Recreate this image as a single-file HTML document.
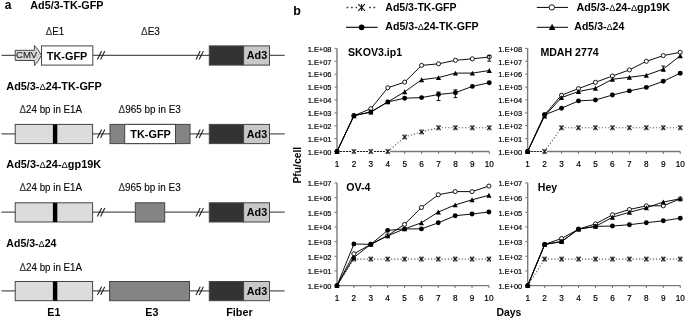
<!DOCTYPE html>
<html><head><meta charset="utf-8"><title>Figure</title>
<style>html,body{margin:0;padding:0;background:#fff;width:685px;height:319px;overflow:hidden;font-family:"Liberation Sans", sans-serif;} svg{display:block;will-change:transform;filter:blur(0.4px);}</style>
</head><body>
<svg width="685" height="319" viewBox="0 0 685 319" font-family='"Liberation Sans", sans-serif'><line x1="1.50" y1="55.30" x2="284.70" y2="55.30" stroke="#555" stroke-width="1.2"/>
<line x1="97.40" y1="59.50" x2="101.60" y2="51.10" stroke="#222" stroke-width="1.1"/>
<line x1="100.60" y1="59.50" x2="104.80" y2="51.10" stroke="#222" stroke-width="1.1"/>
<line x1="196.00" y1="59.50" x2="200.20" y2="51.10" stroke="#222" stroke-width="1.1"/>
<line x1="199.20" y1="59.50" x2="203.40" y2="51.10" stroke="#222" stroke-width="1.1"/>
<rect x="209.3" y="45.9" width="34.3" height="19.2" fill="#333333" stroke="#454545" stroke-width="1"/>
<rect x="243.6" y="45.9" width="25.9" height="19.2" fill="#c8c8c8" stroke="#454545" stroke-width="1"/>
<text x="257.00" y="59.30" font-size="10.8" font-weight="bold" text-anchor="middle" fill="#000">Ad3</text>
<path d="M15.2 50.3 H34.4 V45.5 Q38.7 49.6 41.4 55.4 Q38.7 61.2 34.4 65.6 V60.5 H15.2 Z" fill="#d6d6d6" stroke="#4a4a4a" stroke-width="1"/>
<text x="26.60" y="58.40" font-size="9.7" text-anchor="middle" fill="#1a1a1a" textLength="21.2" lengthAdjust="spacingAndGlyphs" stroke="#1a1a1a" stroke-width="0.1">CMV</text>
<rect x="41.5" y="45.9" width="51.3" height="19.2" fill="#fff" stroke="#454545" stroke-width="1"/>
<text x="67.10" y="59.50" font-size="10.9" font-weight="bold" text-anchor="middle" fill="#000">TK-GFP</text>
<line x1="1.50" y1="133.80" x2="284.70" y2="133.80" stroke="#555" stroke-width="1.2"/>
<line x1="97.40" y1="138.00" x2="101.60" y2="129.60" stroke="#222" stroke-width="1.1"/>
<line x1="100.60" y1="138.00" x2="104.80" y2="129.60" stroke="#222" stroke-width="1.1"/>
<line x1="196.00" y1="138.00" x2="200.20" y2="129.60" stroke="#222" stroke-width="1.1"/>
<line x1="199.20" y1="138.00" x2="203.40" y2="129.60" stroke="#222" stroke-width="1.1"/>
<rect x="209.3" y="124.4" width="34.3" height="19.2" fill="#333333" stroke="#454545" stroke-width="1"/>
<rect x="243.6" y="124.4" width="25.9" height="19.2" fill="#c8c8c8" stroke="#454545" stroke-width="1"/>
<text x="257.00" y="137.80" font-size="10.8" font-weight="bold" text-anchor="middle" fill="#000">Ad3</text>
<rect x="15.2" y="124.4" width="77.4" height="19.2" fill="#dcdcdc" stroke="#454545" stroke-width="1"/>
<rect x="52.9" y="124.4" width="4.4" height="19.2" fill="#000"/>
<rect x="110.0" y="124.4" width="80.0" height="19.2" fill="#848484" stroke="#454545" stroke-width="1"/>
<rect x="124.7" y="124.4" width="50.8" height="19.2" fill="#fff" stroke="#454545" stroke-width="1"/>
<text x="150.60" y="138.00" font-size="10.9" font-weight="bold" text-anchor="middle" fill="#000">TK-GFP</text>
<line x1="1.50" y1="212.20" x2="284.70" y2="212.20" stroke="#555" stroke-width="1.2"/>
<line x1="97.40" y1="216.40" x2="101.60" y2="208.00" stroke="#222" stroke-width="1.1"/>
<line x1="100.60" y1="216.40" x2="104.80" y2="208.00" stroke="#222" stroke-width="1.1"/>
<line x1="196.00" y1="216.40" x2="200.20" y2="208.00" stroke="#222" stroke-width="1.1"/>
<line x1="199.20" y1="216.40" x2="203.40" y2="208.00" stroke="#222" stroke-width="1.1"/>
<rect x="209.3" y="202.79999999999998" width="34.3" height="19.2" fill="#333333" stroke="#454545" stroke-width="1"/>
<rect x="243.6" y="202.79999999999998" width="25.9" height="19.2" fill="#c8c8c8" stroke="#454545" stroke-width="1"/>
<text x="257.00" y="216.20" font-size="10.8" font-weight="bold" text-anchor="middle" fill="#000">Ad3</text>
<rect x="15.2" y="202.79999999999998" width="77.4" height="19.2" fill="#dcdcdc" stroke="#454545" stroke-width="1"/>
<rect x="52.9" y="202.79999999999998" width="4.4" height="19.2" fill="#000"/>
<rect x="135.3" y="202.79999999999998" width="29.4" height="19.2" fill="#848484" stroke="#454545" stroke-width="1"/>
<line x1="1.50" y1="290.90" x2="284.70" y2="290.90" stroke="#555" stroke-width="1.2"/>
<line x1="97.40" y1="295.10" x2="101.60" y2="286.70" stroke="#222" stroke-width="1.1"/>
<line x1="100.60" y1="295.10" x2="104.80" y2="286.70" stroke="#222" stroke-width="1.1"/>
<line x1="196.00" y1="295.10" x2="200.20" y2="286.70" stroke="#222" stroke-width="1.1"/>
<line x1="199.20" y1="295.10" x2="203.40" y2="286.70" stroke="#222" stroke-width="1.1"/>
<rect x="209.3" y="281.5" width="34.3" height="19.2" fill="#333333" stroke="#454545" stroke-width="1"/>
<rect x="243.6" y="281.5" width="25.9" height="19.2" fill="#c8c8c8" stroke="#454545" stroke-width="1"/>
<text x="257.00" y="294.90" font-size="10.8" font-weight="bold" text-anchor="middle" fill="#000">Ad3</text>
<rect x="15.2" y="281.5" width="77.4" height="19.2" fill="#dcdcdc" stroke="#454545" stroke-width="1"/>
<rect x="52.9" y="281.5" width="4.4" height="19.2" fill="#000"/>
<rect x="109.6" y="281.5" width="79.9" height="19.2" fill="#848484" stroke="#454545" stroke-width="1"/>
<text x="4.80" y="8.50" font-size="12.0" font-weight="bold" text-anchor="start" fill="#000">a</text>
<text x="30.30" y="8.90" font-size="10.85" font-weight="bold" text-anchor="start" fill="#000" textLength="73.2" lengthAdjust="spacingAndGlyphs">Ad5/3-TK-GFP</text>
<text x="45.80" y="34.90" font-size="10.4" text-anchor="start" fill="#000" textLength="18.4" lengthAdjust="spacingAndGlyphs" stroke="#111" stroke-width="0.12"><tspan fill="#3a3a3a">&#916;</tspan>E1</text>
<text x="141.00" y="34.80" font-size="10.4" text-anchor="start" fill="#000" textLength="18.9" lengthAdjust="spacingAndGlyphs" stroke="#111" stroke-width="0.12"><tspan fill="#3a3a3a">&#916;</tspan>E3</text>
<text x="6.30" y="89.70" font-size="10.85" font-weight="bold" text-anchor="start" fill="#000" textLength="95.4" lengthAdjust="spacingAndGlyphs">Ad5/3-<tspan font-weight="normal" font-size="0.86em">&#916;</tspan>24-TK-GFP</text>
<text x="19.50" y="112.90" font-size="10.4" text-anchor="start" fill="#000" textLength="62.6" lengthAdjust="spacingAndGlyphs" stroke="#111" stroke-width="0.12"><tspan fill="#3a3a3a">&#916;</tspan>24 bp in E1A</text>
<text x="118.60" y="112.90" font-size="10.4" text-anchor="start" fill="#000" textLength="62.3" lengthAdjust="spacingAndGlyphs" stroke="#111" stroke-width="0.12"><tspan fill="#3a3a3a">&#916;</tspan>965 bp in E3</text>
<text x="6.30" y="168.30" font-size="10.85" font-weight="bold" text-anchor="start" fill="#000" textLength="94.8" lengthAdjust="spacingAndGlyphs">Ad5/3-<tspan font-weight="normal" font-size="0.86em">&#916;</tspan>24-<tspan font-weight="normal" font-size="0.86em">&#916;</tspan>gp19K</text>
<text x="19.50" y="191.20" font-size="10.4" text-anchor="start" fill="#000" textLength="62.6" lengthAdjust="spacingAndGlyphs" stroke="#111" stroke-width="0.12"><tspan fill="#3a3a3a">&#916;</tspan>24 bp in E1A</text>
<text x="118.40" y="191.20" font-size="10.4" text-anchor="start" fill="#000" textLength="62.3" lengthAdjust="spacingAndGlyphs" stroke="#111" stroke-width="0.12"><tspan fill="#3a3a3a">&#916;</tspan>965 bp in E3</text>
<text x="6.30" y="247.20" font-size="10.85" font-weight="bold" text-anchor="start" fill="#000" textLength="50.1" lengthAdjust="spacingAndGlyphs">Ad5/3-<tspan font-weight="normal" font-size="0.86em">&#916;</tspan>24</text>
<text x="19.50" y="270.50" font-size="10.4" text-anchor="start" fill="#000" textLength="62.6" lengthAdjust="spacingAndGlyphs" stroke="#111" stroke-width="0.12"><tspan fill="#3a3a3a">&#916;</tspan>24 bp in E1A</text>
<text x="53.90" y="315.80" font-size="10.7" font-weight="bold" text-anchor="middle" fill="#000">E1</text>
<text x="151.80" y="315.80" font-size="10.7" font-weight="bold" text-anchor="middle" fill="#000">E3</text>
<text x="239.40" y="315.80" font-size="10.8" font-weight="bold" text-anchor="middle" fill="#000">Fiber</text>
<text x="293.20" y="14.60" font-size="12.5" font-weight="bold" text-anchor="start" fill="#000">b</text>
<line x1="346.50" y1="7.50" x2="376.00" y2="7.50" stroke="#444" stroke-width="1.5" stroke-dasharray="1.8,2.7"/>
<rect x="357" y="3" width="10.6" height="9" fill="#fff"/>
<path d="M358.20000000000005 4.1 L365.0 10.9 M365.0 4.1 L358.20000000000005 10.9 M361.6 4.1 V10.9" stroke="#111" stroke-width="1.1" fill="none"/>
<text x="385.30" y="10.60" font-size="10.5" font-weight="bold" text-anchor="start" fill="#000">Ad5/3-TK-GFP</text>
<line x1="346.00" y1="27.30" x2="377.60" y2="27.30" stroke="#000" stroke-width="1.1"/>
<circle cx="361.60" cy="27.30" r="2.9" fill="#000"/>
<text x="385.30" y="30.10" font-size="10.6" font-weight="bold" text-anchor="start" fill="#000" textLength="93.3" lengthAdjust="spacingAndGlyphs">Ad5/3-<tspan font-weight="normal" font-size="0.86em">&#916;</tspan>24-TK-GFP</text>
<line x1="536.80" y1="7.40" x2="568.00" y2="7.40" stroke="#000" stroke-width="1.0"/>
<circle cx="551.80" cy="7.40" r="2.7" fill="#fff" stroke="#000" stroke-width="0.9"/>
<text x="576.40" y="10.80" font-size="10.6" font-weight="bold" text-anchor="start" fill="#000" textLength="93.5" lengthAdjust="spacingAndGlyphs">Ad5/3-<tspan font-weight="normal" font-size="0.86em">&#916;</tspan>24-<tspan font-weight="normal" font-size="0.86em">&#916;</tspan>gp19K</text>
<line x1="536.80" y1="27.30" x2="568.00" y2="27.30" stroke="#000" stroke-width="1.0"/>
<path d="M552.10 23.66 L555.40 29.94 L548.80 29.94 Z" fill="#000"/>
<text x="574.30" y="30.20" font-size="10.6" font-weight="bold" text-anchor="start" fill="#000" textLength="50.0" lengthAdjust="spacingAndGlyphs">Ad5/3-<tspan font-weight="normal" font-size="0.86em">&#916;</tspan>24</text>
<line x1="337.00" y1="48.40" x2="337.00" y2="151.50" stroke="#7a7a7a" stroke-width="1.4"/>
<line x1="334.60" y1="151.50" x2="337.00" y2="151.50" stroke="#7a7a7a" stroke-width="1.1"/>
<text x="331.50" y="154.80" font-size="8.0" text-anchor="end" fill="#000" textLength="23.8" lengthAdjust="spacingAndGlyphs" stroke="#000" stroke-width="0.2">1.E+00</text>
<line x1="334.60" y1="138.61" x2="337.00" y2="138.61" stroke="#7a7a7a" stroke-width="1.1"/>
<text x="331.50" y="141.91" font-size="8.0" text-anchor="end" fill="#000" textLength="23.8" lengthAdjust="spacingAndGlyphs" stroke="#000" stroke-width="0.2">1.E+01</text>
<line x1="334.60" y1="125.72" x2="337.00" y2="125.72" stroke="#7a7a7a" stroke-width="1.1"/>
<text x="331.50" y="129.03" font-size="8.0" text-anchor="end" fill="#000" textLength="23.8" lengthAdjust="spacingAndGlyphs" stroke="#000" stroke-width="0.2">1.E+02</text>
<line x1="334.60" y1="112.84" x2="337.00" y2="112.84" stroke="#7a7a7a" stroke-width="1.1"/>
<text x="331.50" y="116.14" font-size="8.0" text-anchor="end" fill="#000" textLength="23.8" lengthAdjust="spacingAndGlyphs" stroke="#000" stroke-width="0.2">1.E+03</text>
<line x1="334.60" y1="99.95" x2="337.00" y2="99.95" stroke="#7a7a7a" stroke-width="1.1"/>
<text x="331.50" y="103.25" font-size="8.0" text-anchor="end" fill="#000" textLength="23.8" lengthAdjust="spacingAndGlyphs" stroke="#000" stroke-width="0.2">1.E+04</text>
<line x1="334.60" y1="87.06" x2="337.00" y2="87.06" stroke="#7a7a7a" stroke-width="1.1"/>
<text x="331.50" y="90.36" font-size="8.0" text-anchor="end" fill="#000" textLength="23.8" lengthAdjust="spacingAndGlyphs" stroke="#000" stroke-width="0.2">1.E+05</text>
<line x1="334.60" y1="74.18" x2="337.00" y2="74.18" stroke="#7a7a7a" stroke-width="1.1"/>
<text x="331.50" y="77.48" font-size="8.0" text-anchor="end" fill="#000" textLength="23.8" lengthAdjust="spacingAndGlyphs" stroke="#000" stroke-width="0.2">1.E+06</text>
<line x1="334.60" y1="61.29" x2="337.00" y2="61.29" stroke="#7a7a7a" stroke-width="1.1"/>
<text x="331.50" y="64.59" font-size="8.0" text-anchor="end" fill="#000" textLength="23.8" lengthAdjust="spacingAndGlyphs" stroke="#000" stroke-width="0.2">1.E+07</text>
<line x1="334.60" y1="48.40" x2="337.00" y2="48.40" stroke="#7a7a7a" stroke-width="1.1"/>
<text x="331.50" y="51.70" font-size="8.0" text-anchor="end" fill="#000" textLength="23.8" lengthAdjust="spacingAndGlyphs" stroke="#000" stroke-width="0.2">1.E+08</text>
<line x1="387.76" y1="151.50" x2="489.28" y2="151.50" stroke="#7a7a7a" stroke-width="1.4"/>
<text x="337.00" y="166.70" font-size="8.2" text-anchor="middle" fill="#000" stroke="#000" stroke-width="0.2">1</text>
<text x="353.92" y="166.70" font-size="8.2" text-anchor="middle" fill="#000" stroke="#000" stroke-width="0.2">2</text>
<text x="370.84" y="166.70" font-size="8.2" text-anchor="middle" fill="#000" stroke="#000" stroke-width="0.2">3</text>
<line x1="387.76" y1="151.50" x2="387.76" y2="153.90" stroke="#7a7a7a" stroke-width="1.1"/>
<text x="387.76" y="166.70" font-size="8.2" text-anchor="middle" fill="#000" stroke="#000" stroke-width="0.2">4</text>
<line x1="404.68" y1="151.50" x2="404.68" y2="153.90" stroke="#7a7a7a" stroke-width="1.1"/>
<text x="404.68" y="166.70" font-size="8.2" text-anchor="middle" fill="#000" stroke="#000" stroke-width="0.2">5</text>
<line x1="421.60" y1="151.50" x2="421.60" y2="153.90" stroke="#7a7a7a" stroke-width="1.1"/>
<text x="421.60" y="166.70" font-size="8.2" text-anchor="middle" fill="#000" stroke="#000" stroke-width="0.2">6</text>
<line x1="438.52" y1="151.50" x2="438.52" y2="153.90" stroke="#7a7a7a" stroke-width="1.1"/>
<text x="438.52" y="166.70" font-size="8.2" text-anchor="middle" fill="#000" stroke="#000" stroke-width="0.2">7</text>
<line x1="455.44" y1="151.50" x2="455.44" y2="153.90" stroke="#7a7a7a" stroke-width="1.1"/>
<text x="455.44" y="166.70" font-size="8.2" text-anchor="middle" fill="#000" stroke="#000" stroke-width="0.2">8</text>
<line x1="472.36" y1="151.50" x2="472.36" y2="153.90" stroke="#7a7a7a" stroke-width="1.1"/>
<text x="472.36" y="166.70" font-size="8.2" text-anchor="middle" fill="#000" stroke="#000" stroke-width="0.2">9</text>
<line x1="489.28" y1="151.50" x2="489.28" y2="153.90" stroke="#7a7a7a" stroke-width="1.1"/>
<text x="489.28" y="166.70" font-size="8.2" text-anchor="middle" fill="#000" stroke="#000" stroke-width="0.2">10</text>
<text x="348.00" y="56.00" font-size="10.6" font-weight="bold" text-anchor="start" fill="#000">SKOV3.ip1</text>
<line x1="339.90" y1="151.50" x2="351.52" y2="151.50" stroke="#222" stroke-width="1.1" stroke-dasharray="2.3,0.75"/>
<line x1="356.82" y1="151.50" x2="368.44" y2="151.50" stroke="#222" stroke-width="1.1" stroke-dasharray="2.3,0.75"/>
<line x1="373.74" y1="151.50" x2="385.36" y2="151.50" stroke="#222" stroke-width="1.1" stroke-dasharray="2.3,0.75"/>
<line x1="387.76" y1="151.50" x2="404.68" y2="137.00" stroke="#666" stroke-width="1.1" stroke-dasharray="1.3,1.9"/>
<line x1="404.68" y1="137.00" x2="421.60" y2="131.90" stroke="#666" stroke-width="1.1" stroke-dasharray="1.3,1.9"/>
<line x1="421.60" y1="131.90" x2="438.52" y2="127.80" stroke="#666" stroke-width="1.1" stroke-dasharray="1.3,1.9"/>
<line x1="438.52" y1="127.80" x2="455.44" y2="127.80" stroke="#666" stroke-width="1.1" stroke-dasharray="1.3,1.9"/>
<line x1="455.44" y1="127.80" x2="472.36" y2="127.80" stroke="#666" stroke-width="1.1" stroke-dasharray="1.3,1.9"/>
<line x1="472.36" y1="127.80" x2="489.28" y2="127.80" stroke="#666" stroke-width="1.1" stroke-dasharray="1.3,1.9"/>
<rect x="351.52" y="150.70" width="4.80" height="1.6" fill="#fff"/>
<path d="M351.82 149.40 L356.02 153.60 M356.02 149.40 L351.82 153.60" stroke="#111" stroke-width="1.1" fill="none"/>
<path d="M353.92 149.40 V153.60" stroke="#111" stroke-width="0.6" fill="none"/>
<path d="M351.82 149.40 H356.02 M351.82 153.60 H356.02" stroke="#555" stroke-width="0.55" fill="none"/>
<rect x="368.44" y="150.70" width="4.80" height="1.6" fill="#fff"/>
<path d="M368.74 149.40 L372.94 153.60 M372.94 149.40 L368.74 153.60" stroke="#111" stroke-width="1.1" fill="none"/>
<path d="M370.84 149.40 V153.60" stroke="#111" stroke-width="0.6" fill="none"/>
<path d="M368.74 149.40 H372.94 M368.74 153.60 H372.94" stroke="#555" stroke-width="0.55" fill="none"/>
<rect x="385.36" y="150.70" width="4.80" height="1.6" fill="#fff"/>
<path d="M385.66 149.40 L389.86 153.60 M389.86 149.40 L385.66 153.60" stroke="#111" stroke-width="1.1" fill="none"/>
<path d="M387.76 149.40 V153.60" stroke="#111" stroke-width="0.6" fill="none"/>
<path d="M385.66 149.40 H389.86 M385.66 153.60 H389.86" stroke="#555" stroke-width="0.55" fill="none"/>
<rect x="402.28" y="136.20" width="4.80" height="1.6" fill="#fff"/>
<path d="M402.58 134.90 L406.78 139.10 M406.78 134.90 L402.58 139.10" stroke="#111" stroke-width="1.1" fill="none"/>
<path d="M404.68 134.90 V139.10" stroke="#111" stroke-width="0.6" fill="none"/>
<path d="M402.58 134.90 H406.78 M402.58 139.10 H406.78" stroke="#555" stroke-width="0.55" fill="none"/>
<rect x="419.20" y="131.10" width="4.80" height="1.6" fill="#fff"/>
<path d="M419.50 129.80 L423.70 134.00 M423.70 129.80 L419.50 134.00" stroke="#111" stroke-width="1.1" fill="none"/>
<path d="M421.60 129.80 V134.00" stroke="#111" stroke-width="0.6" fill="none"/>
<path d="M419.50 129.80 H423.70 M419.50 134.00 H423.70" stroke="#555" stroke-width="0.55" fill="none"/>
<rect x="436.12" y="127.00" width="4.80" height="1.6" fill="#fff"/>
<path d="M436.42 125.70 L440.62 129.90 M440.62 125.70 L436.42 129.90" stroke="#111" stroke-width="1.1" fill="none"/>
<path d="M438.52 125.70 V129.90" stroke="#111" stroke-width="0.6" fill="none"/>
<path d="M436.42 125.70 H440.62 M436.42 129.90 H440.62" stroke="#555" stroke-width="0.55" fill="none"/>
<rect x="453.04" y="127.00" width="4.80" height="1.6" fill="#fff"/>
<path d="M453.34 125.70 L457.54 129.90 M457.54 125.70 L453.34 129.90" stroke="#111" stroke-width="1.1" fill="none"/>
<path d="M455.44 125.70 V129.90" stroke="#111" stroke-width="0.6" fill="none"/>
<path d="M453.34 125.70 H457.54 M453.34 129.90 H457.54" stroke="#555" stroke-width="0.55" fill="none"/>
<rect x="469.96" y="127.00" width="4.80" height="1.6" fill="#fff"/>
<path d="M470.26 125.70 L474.46 129.90 M474.46 125.70 L470.26 129.90" stroke="#111" stroke-width="1.1" fill="none"/>
<path d="M472.36 125.70 V129.90" stroke="#111" stroke-width="0.6" fill="none"/>
<path d="M470.26 125.70 H474.46 M470.26 129.90 H474.46" stroke="#555" stroke-width="0.55" fill="none"/>
<rect x="486.88" y="127.00" width="4.80" height="1.6" fill="#fff"/>
<path d="M487.18 125.70 L491.38 129.90 M491.38 125.70 L487.18 129.90" stroke="#111" stroke-width="1.1" fill="none"/>
<path d="M489.28 125.70 V129.90" stroke="#111" stroke-width="0.6" fill="none"/>
<path d="M487.18 125.70 H491.38 M487.18 129.90 H491.38" stroke="#555" stroke-width="0.55" fill="none"/>
<path d="M337.0 151.5 L353.9 115.7 L370.8 108.7 L387.8 87.8 L404.7 82.1 L421.6 65.4 L438.5 63.8 L455.4 60.3 L472.4 58.8 L489.3 57.0" stroke="#000" stroke-width="0.95" fill="none"/>
<circle cx="337.00" cy="151.50" r="2.05" fill="#fff" stroke="#000" stroke-width="0.9"/>
<circle cx="353.92" cy="115.70" r="2.05" fill="#fff" stroke="#000" stroke-width="0.9"/>
<circle cx="370.84" cy="108.70" r="2.05" fill="#fff" stroke="#000" stroke-width="0.9"/>
<circle cx="387.76" cy="87.80" r="2.05" fill="#fff" stroke="#000" stroke-width="0.9"/>
<circle cx="404.68" cy="82.10" r="2.05" fill="#fff" stroke="#000" stroke-width="0.9"/>
<circle cx="421.60" cy="65.40" r="2.05" fill="#fff" stroke="#000" stroke-width="0.9"/>
<circle cx="438.52" cy="63.80" r="2.05" fill="#fff" stroke="#000" stroke-width="0.9"/>
<circle cx="455.44" cy="60.30" r="2.05" fill="#fff" stroke="#000" stroke-width="0.9"/>
<circle cx="472.36" cy="58.80" r="2.05" fill="#fff" stroke="#000" stroke-width="0.9"/>
<circle cx="489.28" cy="57.00" r="2.05" fill="#fff" stroke="#000" stroke-width="0.9"/>
<path d="M337.0 151.5 L353.9 115.7 L370.8 112.0 L387.8 101.9 L404.7 98.2 L421.6 97.6 L438.5 94.5 L455.4 92.7 L472.4 86.4 L489.3 82.7" stroke="#000" stroke-width="0.95" fill="none"/>
<circle cx="337.00" cy="151.50" r="2.45" fill="#000"/>
<circle cx="353.92" cy="115.70" r="2.45" fill="#000"/>
<circle cx="370.84" cy="112.00" r="2.45" fill="#000"/>
<circle cx="387.76" cy="101.90" r="2.45" fill="#000"/>
<circle cx="404.68" cy="98.20" r="2.45" fill="#000"/>
<circle cx="421.60" cy="97.60" r="2.45" fill="#000"/>
<circle cx="438.52" cy="94.50" r="2.45" fill="#000"/>
<circle cx="455.44" cy="92.70" r="2.45" fill="#000"/>
<circle cx="472.36" cy="86.40" r="2.45" fill="#000"/>
<circle cx="489.28" cy="82.70" r="2.45" fill="#000"/>
<path d="M337.0 151.5 L353.9 115.7 L370.8 112.1 L387.8 101.9 L404.7 91.8 L421.6 79.7 L438.5 77.6 L455.4 73.1 L472.4 73.1 L489.3 70.5" stroke="#000" stroke-width="0.95" fill="none"/>
<path d="M337.00 149.03 L339.60 153.97 L334.40 153.97 Z" fill="#000"/>
<path d="M353.92 113.23 L356.52 118.17 L351.32 118.17 Z" fill="#000"/>
<path d="M370.84 109.63 L373.44 114.57 L368.24 114.57 Z" fill="#000"/>
<path d="M387.76 99.43 L390.36 104.37 L385.16 104.37 Z" fill="#000"/>
<path d="M404.68 89.33 L407.28 94.27 L402.08 94.27 Z" fill="#000"/>
<path d="M421.60 77.23 L424.20 82.17 L419.00 82.17 Z" fill="#000"/>
<path d="M438.52 75.13 L441.12 80.07 L435.92 80.07 Z" fill="#000"/>
<path d="M455.44 70.63 L458.04 75.57 L452.84 75.57 Z" fill="#000"/>
<path d="M472.36 70.63 L474.96 75.57 L469.76 75.57 Z" fill="#000"/>
<path d="M489.28 68.03 L491.88 72.97 L486.68 72.97 Z" fill="#000"/>
<path d="M438.52 92.0 V100.5 M436.52 92.0 H440.52 M436.52 100.5 H440.52" stroke="#000" stroke-width="0.9" fill="none"/>
<path d="M455.44 89.8 V97.6 M453.44 89.8 H457.44 M453.44 97.6 H457.44" stroke="#000" stroke-width="0.9" fill="none"/>
<path d="M489.28 55.4 V61.2 M487.28 55.4 H491.28 M487.28 61.2 H491.28" stroke="#000" stroke-width="0.9" fill="none"/>
<line x1="527.60" y1="48.40" x2="527.60" y2="151.50" stroke="#7a7a7a" stroke-width="1.4"/>
<line x1="525.20" y1="151.50" x2="527.60" y2="151.50" stroke="#7a7a7a" stroke-width="1.1"/>
<text x="522.10" y="154.80" font-size="8.0" text-anchor="end" fill="#000" textLength="23.8" lengthAdjust="spacingAndGlyphs" stroke="#000" stroke-width="0.2">1.E+00</text>
<line x1="525.20" y1="138.61" x2="527.60" y2="138.61" stroke="#7a7a7a" stroke-width="1.1"/>
<text x="522.10" y="141.91" font-size="8.0" text-anchor="end" fill="#000" textLength="23.8" lengthAdjust="spacingAndGlyphs" stroke="#000" stroke-width="0.2">1.E+01</text>
<line x1="525.20" y1="125.72" x2="527.60" y2="125.72" stroke="#7a7a7a" stroke-width="1.1"/>
<text x="522.10" y="129.03" font-size="8.0" text-anchor="end" fill="#000" textLength="23.8" lengthAdjust="spacingAndGlyphs" stroke="#000" stroke-width="0.2">1.E+02</text>
<line x1="525.20" y1="112.84" x2="527.60" y2="112.84" stroke="#7a7a7a" stroke-width="1.1"/>
<text x="522.10" y="116.14" font-size="8.0" text-anchor="end" fill="#000" textLength="23.8" lengthAdjust="spacingAndGlyphs" stroke="#000" stroke-width="0.2">1.E+03</text>
<line x1="525.20" y1="99.95" x2="527.60" y2="99.95" stroke="#7a7a7a" stroke-width="1.1"/>
<text x="522.10" y="103.25" font-size="8.0" text-anchor="end" fill="#000" textLength="23.8" lengthAdjust="spacingAndGlyphs" stroke="#000" stroke-width="0.2">1.E+04</text>
<line x1="525.20" y1="87.06" x2="527.60" y2="87.06" stroke="#7a7a7a" stroke-width="1.1"/>
<text x="522.10" y="90.36" font-size="8.0" text-anchor="end" fill="#000" textLength="23.8" lengthAdjust="spacingAndGlyphs" stroke="#000" stroke-width="0.2">1.E+05</text>
<line x1="525.20" y1="74.18" x2="527.60" y2="74.18" stroke="#7a7a7a" stroke-width="1.1"/>
<text x="522.10" y="77.48" font-size="8.0" text-anchor="end" fill="#000" textLength="23.8" lengthAdjust="spacingAndGlyphs" stroke="#000" stroke-width="0.2">1.E+06</text>
<line x1="525.20" y1="61.29" x2="527.60" y2="61.29" stroke="#7a7a7a" stroke-width="1.1"/>
<text x="522.10" y="64.59" font-size="8.0" text-anchor="end" fill="#000" textLength="23.8" lengthAdjust="spacingAndGlyphs" stroke="#000" stroke-width="0.2">1.E+07</text>
<line x1="525.20" y1="48.40" x2="527.60" y2="48.40" stroke="#7a7a7a" stroke-width="1.1"/>
<text x="522.10" y="51.70" font-size="8.0" text-anchor="end" fill="#000" textLength="23.8" lengthAdjust="spacingAndGlyphs" stroke="#000" stroke-width="0.2">1.E+08</text>
<line x1="544.56" y1="151.50" x2="680.24" y2="151.50" stroke="#7a7a7a" stroke-width="1.4"/>
<text x="527.60" y="166.70" font-size="8.2" text-anchor="middle" fill="#000" stroke="#000" stroke-width="0.2">1</text>
<line x1="544.56" y1="151.50" x2="544.56" y2="153.90" stroke="#7a7a7a" stroke-width="1.1"/>
<text x="544.56" y="166.70" font-size="8.2" text-anchor="middle" fill="#000" stroke="#000" stroke-width="0.2">2</text>
<line x1="561.52" y1="151.50" x2="561.52" y2="153.90" stroke="#7a7a7a" stroke-width="1.1"/>
<text x="561.52" y="166.70" font-size="8.2" text-anchor="middle" fill="#000" stroke="#000" stroke-width="0.2">3</text>
<line x1="578.48" y1="151.50" x2="578.48" y2="153.90" stroke="#7a7a7a" stroke-width="1.1"/>
<text x="578.48" y="166.70" font-size="8.2" text-anchor="middle" fill="#000" stroke="#000" stroke-width="0.2">4</text>
<line x1="595.44" y1="151.50" x2="595.44" y2="153.90" stroke="#7a7a7a" stroke-width="1.1"/>
<text x="595.44" y="166.70" font-size="8.2" text-anchor="middle" fill="#000" stroke="#000" stroke-width="0.2">5</text>
<line x1="612.40" y1="151.50" x2="612.40" y2="153.90" stroke="#7a7a7a" stroke-width="1.1"/>
<text x="612.40" y="166.70" font-size="8.2" text-anchor="middle" fill="#000" stroke="#000" stroke-width="0.2">6</text>
<line x1="629.36" y1="151.50" x2="629.36" y2="153.90" stroke="#7a7a7a" stroke-width="1.1"/>
<text x="629.36" y="166.70" font-size="8.2" text-anchor="middle" fill="#000" stroke="#000" stroke-width="0.2">7</text>
<line x1="646.32" y1="151.50" x2="646.32" y2="153.90" stroke="#7a7a7a" stroke-width="1.1"/>
<text x="646.32" y="166.70" font-size="8.2" text-anchor="middle" fill="#000" stroke="#000" stroke-width="0.2">8</text>
<line x1="663.28" y1="151.50" x2="663.28" y2="153.90" stroke="#7a7a7a" stroke-width="1.1"/>
<text x="663.28" y="166.70" font-size="8.2" text-anchor="middle" fill="#000" stroke="#000" stroke-width="0.2">9</text>
<line x1="680.24" y1="151.50" x2="680.24" y2="153.90" stroke="#7a7a7a" stroke-width="1.1"/>
<text x="680.24" y="166.70" font-size="8.2" text-anchor="middle" fill="#000" stroke="#000" stroke-width="0.2">10</text>
<text x="540.40" y="55.80" font-size="10.6" font-weight="bold" text-anchor="start" fill="#000">MDAH 2774</text>
<line x1="530.50" y1="151.50" x2="542.16" y2="151.50" stroke="#222" stroke-width="1.1" stroke-dasharray="2.3,0.75"/>
<line x1="544.56" y1="151.50" x2="561.52" y2="127.70" stroke="#666" stroke-width="1.1" stroke-dasharray="1.3,1.9"/>
<line x1="561.52" y1="127.70" x2="578.48" y2="127.70" stroke="#666" stroke-width="1.1" stroke-dasharray="1.3,1.9"/>
<line x1="578.48" y1="127.70" x2="595.44" y2="127.70" stroke="#666" stroke-width="1.1" stroke-dasharray="1.3,1.9"/>
<line x1="595.44" y1="127.70" x2="612.40" y2="127.70" stroke="#666" stroke-width="1.1" stroke-dasharray="1.3,1.9"/>
<line x1="612.40" y1="127.70" x2="629.36" y2="127.70" stroke="#666" stroke-width="1.1" stroke-dasharray="1.3,1.9"/>
<line x1="629.36" y1="127.70" x2="646.32" y2="127.70" stroke="#666" stroke-width="1.1" stroke-dasharray="1.3,1.9"/>
<line x1="646.32" y1="127.70" x2="663.28" y2="127.70" stroke="#666" stroke-width="1.1" stroke-dasharray="1.3,1.9"/>
<line x1="663.28" y1="127.70" x2="680.24" y2="127.70" stroke="#666" stroke-width="1.1" stroke-dasharray="1.3,1.9"/>
<rect x="542.16" y="150.70" width="4.80" height="1.6" fill="#fff"/>
<path d="M542.46 149.40 L546.66 153.60 M546.66 149.40 L542.46 153.60" stroke="#111" stroke-width="1.1" fill="none"/>
<path d="M544.56 149.40 V153.60" stroke="#111" stroke-width="0.6" fill="none"/>
<path d="M542.46 149.40 H546.66 M542.46 153.60 H546.66" stroke="#555" stroke-width="0.55" fill="none"/>
<rect x="559.12" y="126.90" width="4.80" height="1.6" fill="#fff"/>
<path d="M559.42 125.60 L563.62 129.80 M563.62 125.60 L559.42 129.80" stroke="#111" stroke-width="1.1" fill="none"/>
<path d="M561.52 125.60 V129.80" stroke="#111" stroke-width="0.6" fill="none"/>
<path d="M559.42 125.60 H563.62 M559.42 129.80 H563.62" stroke="#555" stroke-width="0.55" fill="none"/>
<rect x="576.08" y="126.90" width="4.80" height="1.6" fill="#fff"/>
<path d="M576.38 125.60 L580.58 129.80 M580.58 125.60 L576.38 129.80" stroke="#111" stroke-width="1.1" fill="none"/>
<path d="M578.48 125.60 V129.80" stroke="#111" stroke-width="0.6" fill="none"/>
<path d="M576.38 125.60 H580.58 M576.38 129.80 H580.58" stroke="#555" stroke-width="0.55" fill="none"/>
<rect x="593.04" y="126.90" width="4.80" height="1.6" fill="#fff"/>
<path d="M593.34 125.60 L597.54 129.80 M597.54 125.60 L593.34 129.80" stroke="#111" stroke-width="1.1" fill="none"/>
<path d="M595.44 125.60 V129.80" stroke="#111" stroke-width="0.6" fill="none"/>
<path d="M593.34 125.60 H597.54 M593.34 129.80 H597.54" stroke="#555" stroke-width="0.55" fill="none"/>
<rect x="610.00" y="126.90" width="4.80" height="1.6" fill="#fff"/>
<path d="M610.30 125.60 L614.50 129.80 M614.50 125.60 L610.30 129.80" stroke="#111" stroke-width="1.1" fill="none"/>
<path d="M612.40 125.60 V129.80" stroke="#111" stroke-width="0.6" fill="none"/>
<path d="M610.30 125.60 H614.50 M610.30 129.80 H614.50" stroke="#555" stroke-width="0.55" fill="none"/>
<rect x="626.96" y="126.90" width="4.80" height="1.6" fill="#fff"/>
<path d="M627.26 125.60 L631.46 129.80 M631.46 125.60 L627.26 129.80" stroke="#111" stroke-width="1.1" fill="none"/>
<path d="M629.36 125.60 V129.80" stroke="#111" stroke-width="0.6" fill="none"/>
<path d="M627.26 125.60 H631.46 M627.26 129.80 H631.46" stroke="#555" stroke-width="0.55" fill="none"/>
<rect x="643.92" y="126.90" width="4.80" height="1.6" fill="#fff"/>
<path d="M644.22 125.60 L648.42 129.80 M648.42 125.60 L644.22 129.80" stroke="#111" stroke-width="1.1" fill="none"/>
<path d="M646.32 125.60 V129.80" stroke="#111" stroke-width="0.6" fill="none"/>
<path d="M644.22 125.60 H648.42 M644.22 129.80 H648.42" stroke="#555" stroke-width="0.55" fill="none"/>
<rect x="660.88" y="126.90" width="4.80" height="1.6" fill="#fff"/>
<path d="M661.18 125.60 L665.38 129.80 M665.38 125.60 L661.18 129.80" stroke="#111" stroke-width="1.1" fill="none"/>
<path d="M663.28 125.60 V129.80" stroke="#111" stroke-width="0.6" fill="none"/>
<path d="M661.18 125.60 H665.38 M661.18 129.80 H665.38" stroke="#555" stroke-width="0.55" fill="none"/>
<rect x="677.84" y="126.90" width="4.80" height="1.6" fill="#fff"/>
<path d="M678.14 125.60 L682.34 129.80 M682.34 125.60 L678.14 129.80" stroke="#111" stroke-width="1.1" fill="none"/>
<path d="M680.24 125.60 V129.80" stroke="#111" stroke-width="0.6" fill="none"/>
<path d="M678.14 125.60 H682.34 M678.14 129.80 H682.34" stroke="#555" stroke-width="0.55" fill="none"/>
<path d="M527.6 151.5 L544.6 114.8 L561.5 95.2 L578.5 88.6 L595.4 82.3 L612.4 76.0 L629.4 69.9 L646.3 61.3 L663.3 55.6 L680.2 52.3" stroke="#000" stroke-width="0.95" fill="none"/>
<circle cx="527.60" cy="151.50" r="2.05" fill="#fff" stroke="#000" stroke-width="0.9"/>
<circle cx="544.56" cy="114.80" r="2.05" fill="#fff" stroke="#000" stroke-width="0.9"/>
<circle cx="561.52" cy="95.20" r="2.05" fill="#fff" stroke="#000" stroke-width="0.9"/>
<circle cx="578.48" cy="88.60" r="2.05" fill="#fff" stroke="#000" stroke-width="0.9"/>
<circle cx="595.44" cy="82.30" r="2.05" fill="#fff" stroke="#000" stroke-width="0.9"/>
<circle cx="612.40" cy="76.00" r="2.05" fill="#fff" stroke="#000" stroke-width="0.9"/>
<circle cx="629.36" cy="69.90" r="2.05" fill="#fff" stroke="#000" stroke-width="0.9"/>
<circle cx="646.32" cy="61.30" r="2.05" fill="#fff" stroke="#000" stroke-width="0.9"/>
<circle cx="663.28" cy="55.60" r="2.05" fill="#fff" stroke="#000" stroke-width="0.9"/>
<circle cx="680.24" cy="52.30" r="2.05" fill="#fff" stroke="#000" stroke-width="0.9"/>
<path d="M527.6 151.5 L544.6 114.8 L561.5 108.2 L578.5 100.9 L595.4 100.0 L612.4 95.0 L629.4 90.9 L646.3 87.4 L663.3 81.3 L680.2 73.2" stroke="#000" stroke-width="0.95" fill="none"/>
<circle cx="527.60" cy="151.50" r="2.45" fill="#000"/>
<circle cx="544.56" cy="114.80" r="2.45" fill="#000"/>
<circle cx="561.52" cy="108.20" r="2.45" fill="#000"/>
<circle cx="578.48" cy="100.90" r="2.45" fill="#000"/>
<circle cx="595.44" cy="100.00" r="2.45" fill="#000"/>
<circle cx="612.40" cy="95.00" r="2.45" fill="#000"/>
<circle cx="629.36" cy="90.90" r="2.45" fill="#000"/>
<circle cx="646.32" cy="87.40" r="2.45" fill="#000"/>
<circle cx="663.28" cy="81.30" r="2.45" fill="#000"/>
<circle cx="680.24" cy="73.20" r="2.45" fill="#000"/>
<path d="M527.6 151.5 L544.6 116.0 L561.5 97.6 L578.5 91.5 L595.4 88.2 L612.4 79.3 L629.4 77.2 L646.3 75.2 L663.3 69.1 L680.2 55.8" stroke="#000" stroke-width="0.95" fill="none"/>
<path d="M527.60 149.03 L530.20 153.97 L525.00 153.97 Z" fill="#000"/>
<path d="M544.56 113.53 L547.16 118.47 L541.96 118.47 Z" fill="#000"/>
<path d="M561.52 95.13 L564.12 100.07 L558.92 100.07 Z" fill="#000"/>
<path d="M578.48 89.03 L581.08 93.97 L575.88 93.97 Z" fill="#000"/>
<path d="M595.44 85.73 L598.04 90.67 L592.84 90.67 Z" fill="#000"/>
<path d="M612.40 76.83 L615.00 81.77 L609.80 81.77 Z" fill="#000"/>
<path d="M629.36 74.73 L631.96 79.67 L626.76 79.67 Z" fill="#000"/>
<path d="M646.32 72.73 L648.92 77.67 L643.72 77.67 Z" fill="#000"/>
<path d="M663.28 66.63 L665.88 71.57 L660.68 71.57 Z" fill="#000"/>
<path d="M680.24 53.33 L682.84 58.27 L677.64 58.27 Z" fill="#000"/>
<path d="M663.28 66.0 V71.1 M661.28 66.0 H665.28 M661.28 71.1 H665.28" stroke="#000" stroke-width="0.9" fill="none"/>
<line x1="337.00" y1="183.00" x2="337.00" y2="285.60" stroke="#7a7a7a" stroke-width="1.4"/>
<line x1="334.60" y1="285.60" x2="337.00" y2="285.60" stroke="#7a7a7a" stroke-width="1.1"/>
<text x="331.50" y="288.90" font-size="8.0" text-anchor="end" fill="#000" textLength="23.8" lengthAdjust="spacingAndGlyphs" stroke="#000" stroke-width="0.2">1.E+00</text>
<line x1="334.60" y1="270.94" x2="337.00" y2="270.94" stroke="#7a7a7a" stroke-width="1.1"/>
<text x="331.50" y="274.24" font-size="8.0" text-anchor="end" fill="#000" textLength="23.8" lengthAdjust="spacingAndGlyphs" stroke="#000" stroke-width="0.2">1.E+01</text>
<line x1="334.60" y1="256.29" x2="337.00" y2="256.29" stroke="#7a7a7a" stroke-width="1.1"/>
<text x="331.50" y="259.59" font-size="8.0" text-anchor="end" fill="#000" textLength="23.8" lengthAdjust="spacingAndGlyphs" stroke="#000" stroke-width="0.2">1.E+02</text>
<line x1="334.60" y1="241.63" x2="337.00" y2="241.63" stroke="#7a7a7a" stroke-width="1.1"/>
<text x="331.50" y="244.93" font-size="8.0" text-anchor="end" fill="#000" textLength="23.8" lengthAdjust="spacingAndGlyphs" stroke="#000" stroke-width="0.2">1.E+03</text>
<line x1="334.60" y1="226.97" x2="337.00" y2="226.97" stroke="#7a7a7a" stroke-width="1.1"/>
<text x="331.50" y="230.27" font-size="8.0" text-anchor="end" fill="#000" textLength="23.8" lengthAdjust="spacingAndGlyphs" stroke="#000" stroke-width="0.2">1.E+04</text>
<line x1="334.60" y1="212.31" x2="337.00" y2="212.31" stroke="#7a7a7a" stroke-width="1.1"/>
<text x="331.50" y="215.61" font-size="8.0" text-anchor="end" fill="#000" textLength="23.8" lengthAdjust="spacingAndGlyphs" stroke="#000" stroke-width="0.2">1.E+05</text>
<line x1="334.60" y1="197.66" x2="337.00" y2="197.66" stroke="#7a7a7a" stroke-width="1.1"/>
<text x="331.50" y="200.96" font-size="8.0" text-anchor="end" fill="#000" textLength="23.8" lengthAdjust="spacingAndGlyphs" stroke="#000" stroke-width="0.2">1.E+06</text>
<line x1="334.60" y1="183.00" x2="337.00" y2="183.00" stroke="#7a7a7a" stroke-width="1.1"/>
<text x="331.50" y="186.30" font-size="8.0" text-anchor="end" fill="#000" textLength="23.8" lengthAdjust="spacingAndGlyphs" stroke="#000" stroke-width="0.2">1.E+07</text>
<line x1="337.00" y1="285.60" x2="488.92" y2="285.60" stroke="#7a7a7a" stroke-width="1.4"/>
<text x="337.00" y="301.00" font-size="8.2" text-anchor="middle" fill="#000" stroke="#000" stroke-width="0.2">1</text>
<line x1="353.88" y1="285.60" x2="353.88" y2="288.00" stroke="#7a7a7a" stroke-width="1.1"/>
<text x="353.88" y="301.00" font-size="8.2" text-anchor="middle" fill="#000" stroke="#000" stroke-width="0.2">2</text>
<line x1="370.76" y1="285.60" x2="370.76" y2="288.00" stroke="#7a7a7a" stroke-width="1.1"/>
<text x="370.76" y="301.00" font-size="8.2" text-anchor="middle" fill="#000" stroke="#000" stroke-width="0.2">3</text>
<line x1="387.64" y1="285.60" x2="387.64" y2="288.00" stroke="#7a7a7a" stroke-width="1.1"/>
<text x="387.64" y="301.00" font-size="8.2" text-anchor="middle" fill="#000" stroke="#000" stroke-width="0.2">4</text>
<line x1="404.52" y1="285.60" x2="404.52" y2="288.00" stroke="#7a7a7a" stroke-width="1.1"/>
<text x="404.52" y="301.00" font-size="8.2" text-anchor="middle" fill="#000" stroke="#000" stroke-width="0.2">5</text>
<line x1="421.40" y1="285.60" x2="421.40" y2="288.00" stroke="#7a7a7a" stroke-width="1.1"/>
<text x="421.40" y="301.00" font-size="8.2" text-anchor="middle" fill="#000" stroke="#000" stroke-width="0.2">6</text>
<line x1="438.28" y1="285.60" x2="438.28" y2="288.00" stroke="#7a7a7a" stroke-width="1.1"/>
<text x="438.28" y="301.00" font-size="8.2" text-anchor="middle" fill="#000" stroke="#000" stroke-width="0.2">7</text>
<line x1="455.16" y1="285.60" x2="455.16" y2="288.00" stroke="#7a7a7a" stroke-width="1.1"/>
<text x="455.16" y="301.00" font-size="8.2" text-anchor="middle" fill="#000" stroke="#000" stroke-width="0.2">8</text>
<line x1="472.04" y1="285.60" x2="472.04" y2="288.00" stroke="#7a7a7a" stroke-width="1.1"/>
<text x="472.04" y="301.00" font-size="8.2" text-anchor="middle" fill="#000" stroke="#000" stroke-width="0.2">9</text>
<line x1="488.92" y1="285.60" x2="488.92" y2="288.00" stroke="#7a7a7a" stroke-width="1.1"/>
<text x="488.92" y="301.00" font-size="8.2" text-anchor="middle" fill="#000" stroke="#000" stroke-width="0.2">10</text>
<text x="346.30" y="191.00" font-size="10.6" font-weight="bold" text-anchor="start" fill="#000">OV-4</text>
<line x1="337.00" y1="285.60" x2="353.88" y2="259.10" stroke="#666" stroke-width="1.1" stroke-dasharray="1.3,1.9"/>
<line x1="353.88" y1="259.10" x2="370.76" y2="259.10" stroke="#666" stroke-width="1.1" stroke-dasharray="1.3,1.9"/>
<line x1="370.76" y1="259.10" x2="387.64" y2="259.10" stroke="#666" stroke-width="1.1" stroke-dasharray="1.3,1.9"/>
<line x1="387.64" y1="259.10" x2="404.52" y2="259.10" stroke="#666" stroke-width="1.1" stroke-dasharray="1.3,1.9"/>
<line x1="404.52" y1="259.10" x2="421.40" y2="259.10" stroke="#666" stroke-width="1.1" stroke-dasharray="1.3,1.9"/>
<line x1="421.40" y1="259.10" x2="438.28" y2="259.10" stroke="#666" stroke-width="1.1" stroke-dasharray="1.3,1.9"/>
<line x1="438.28" y1="259.10" x2="455.16" y2="259.10" stroke="#666" stroke-width="1.1" stroke-dasharray="1.3,1.9"/>
<line x1="455.16" y1="259.10" x2="472.04" y2="259.10" stroke="#666" stroke-width="1.1" stroke-dasharray="1.3,1.9"/>
<line x1="472.04" y1="259.10" x2="488.92" y2="259.10" stroke="#666" stroke-width="1.1" stroke-dasharray="1.3,1.9"/>
<rect x="351.48" y="258.30" width="4.80" height="1.6" fill="#fff"/>
<path d="M351.78 257.00 L355.98 261.20 M355.98 257.00 L351.78 261.20" stroke="#111" stroke-width="1.1" fill="none"/>
<path d="M353.88 257.00 V261.20" stroke="#111" stroke-width="0.6" fill="none"/>
<path d="M351.78 257.00 H355.98 M351.78 261.20 H355.98" stroke="#555" stroke-width="0.55" fill="none"/>
<rect x="368.36" y="258.30" width="4.80" height="1.6" fill="#fff"/>
<path d="M368.66 257.00 L372.86 261.20 M372.86 257.00 L368.66 261.20" stroke="#111" stroke-width="1.1" fill="none"/>
<path d="M370.76 257.00 V261.20" stroke="#111" stroke-width="0.6" fill="none"/>
<path d="M368.66 257.00 H372.86 M368.66 261.20 H372.86" stroke="#555" stroke-width="0.55" fill="none"/>
<rect x="385.24" y="258.30" width="4.80" height="1.6" fill="#fff"/>
<path d="M385.54 257.00 L389.74 261.20 M389.74 257.00 L385.54 261.20" stroke="#111" stroke-width="1.1" fill="none"/>
<path d="M387.64 257.00 V261.20" stroke="#111" stroke-width="0.6" fill="none"/>
<path d="M385.54 257.00 H389.74 M385.54 261.20 H389.74" stroke="#555" stroke-width="0.55" fill="none"/>
<rect x="402.12" y="258.30" width="4.80" height="1.6" fill="#fff"/>
<path d="M402.42 257.00 L406.62 261.20 M406.62 257.00 L402.42 261.20" stroke="#111" stroke-width="1.1" fill="none"/>
<path d="M404.52 257.00 V261.20" stroke="#111" stroke-width="0.6" fill="none"/>
<path d="M402.42 257.00 H406.62 M402.42 261.20 H406.62" stroke="#555" stroke-width="0.55" fill="none"/>
<rect x="419.00" y="258.30" width="4.80" height="1.6" fill="#fff"/>
<path d="M419.30 257.00 L423.50 261.20 M423.50 257.00 L419.30 261.20" stroke="#111" stroke-width="1.1" fill="none"/>
<path d="M421.40 257.00 V261.20" stroke="#111" stroke-width="0.6" fill="none"/>
<path d="M419.30 257.00 H423.50 M419.30 261.20 H423.50" stroke="#555" stroke-width="0.55" fill="none"/>
<rect x="435.88" y="258.30" width="4.80" height="1.6" fill="#fff"/>
<path d="M436.18 257.00 L440.38 261.20 M440.38 257.00 L436.18 261.20" stroke="#111" stroke-width="1.1" fill="none"/>
<path d="M438.28 257.00 V261.20" stroke="#111" stroke-width="0.6" fill="none"/>
<path d="M436.18 257.00 H440.38 M436.18 261.20 H440.38" stroke="#555" stroke-width="0.55" fill="none"/>
<rect x="452.76" y="258.30" width="4.80" height="1.6" fill="#fff"/>
<path d="M453.06 257.00 L457.26 261.20 M457.26 257.00 L453.06 261.20" stroke="#111" stroke-width="1.1" fill="none"/>
<path d="M455.16 257.00 V261.20" stroke="#111" stroke-width="0.6" fill="none"/>
<path d="M453.06 257.00 H457.26 M453.06 261.20 H457.26" stroke="#555" stroke-width="0.55" fill="none"/>
<rect x="469.64" y="258.30" width="4.80" height="1.6" fill="#fff"/>
<path d="M469.94 257.00 L474.14 261.20 M474.14 257.00 L469.94 261.20" stroke="#111" stroke-width="1.1" fill="none"/>
<path d="M472.04 257.00 V261.20" stroke="#111" stroke-width="0.6" fill="none"/>
<path d="M469.94 257.00 H474.14 M469.94 261.20 H474.14" stroke="#555" stroke-width="0.55" fill="none"/>
<rect x="486.52" y="258.30" width="4.80" height="1.6" fill="#fff"/>
<path d="M486.82 257.00 L491.02 261.20 M491.02 257.00 L486.82 261.20" stroke="#111" stroke-width="1.1" fill="none"/>
<path d="M488.92 257.00 V261.20" stroke="#111" stroke-width="0.6" fill="none"/>
<path d="M486.82 257.00 H491.02 M486.82 261.20 H491.02" stroke="#555" stroke-width="0.55" fill="none"/>
<path d="M337.0 285.6 L353.9 253.8 L370.8 244.3 L387.6 235.6 L404.5 224.4 L421.4 207.5 L438.3 194.7 L455.2 191.6 L472.0 191.6 L488.9 186.1" stroke="#000" stroke-width="0.95" fill="none"/>
<circle cx="337.00" cy="285.60" r="2.05" fill="#fff" stroke="#000" stroke-width="0.9"/>
<circle cx="353.88" cy="253.80" r="2.05" fill="#fff" stroke="#000" stroke-width="0.9"/>
<circle cx="370.76" cy="244.30" r="2.05" fill="#fff" stroke="#000" stroke-width="0.9"/>
<circle cx="387.64" cy="235.60" r="2.05" fill="#fff" stroke="#000" stroke-width="0.9"/>
<circle cx="404.52" cy="224.40" r="2.05" fill="#fff" stroke="#000" stroke-width="0.9"/>
<circle cx="421.40" cy="207.50" r="2.05" fill="#fff" stroke="#000" stroke-width="0.9"/>
<circle cx="438.28" cy="194.70" r="2.05" fill="#fff" stroke="#000" stroke-width="0.9"/>
<circle cx="455.16" cy="191.60" r="2.05" fill="#fff" stroke="#000" stroke-width="0.9"/>
<circle cx="472.04" cy="191.60" r="2.05" fill="#fff" stroke="#000" stroke-width="0.9"/>
<circle cx="488.92" cy="186.10" r="2.05" fill="#fff" stroke="#000" stroke-width="0.9"/>
<path d="M337.0 285.6 L353.9 244.0 L370.8 244.3 L387.6 230.4 L404.5 228.9 L421.4 228.9 L438.3 222.8 L455.2 215.7 L472.0 214.0 L488.9 212.0" stroke="#000" stroke-width="0.95" fill="none"/>
<circle cx="337.00" cy="285.60" r="2.45" fill="#000"/>
<circle cx="353.88" cy="244.00" r="2.45" fill="#000"/>
<circle cx="370.76" cy="244.30" r="2.45" fill="#000"/>
<circle cx="387.64" cy="230.40" r="2.45" fill="#000"/>
<circle cx="404.52" cy="228.90" r="2.45" fill="#000"/>
<circle cx="421.40" cy="228.90" r="2.45" fill="#000"/>
<circle cx="438.28" cy="222.80" r="2.45" fill="#000"/>
<circle cx="455.16" cy="215.70" r="2.45" fill="#000"/>
<circle cx="472.04" cy="214.00" r="2.45" fill="#000"/>
<circle cx="488.92" cy="212.00" r="2.45" fill="#000"/>
<path d="M337.0 285.6 L353.9 257.4 L370.8 244.3 L387.6 235.9 L404.5 228.9 L421.4 222.8 L438.3 212.0 L455.2 204.9 L472.0 199.8 L488.9 195.3" stroke="#000" stroke-width="0.95" fill="none"/>
<path d="M337.00 283.13 L339.60 288.07 L334.40 288.07 Z" fill="#000"/>
<path d="M353.88 254.93 L356.48 259.87 L351.28 259.87 Z" fill="#000"/>
<path d="M370.76 241.83 L373.36 246.77 L368.16 246.77 Z" fill="#000"/>
<path d="M387.64 233.43 L390.24 238.37 L385.04 238.37 Z" fill="#000"/>
<path d="M404.52 226.43 L407.12 231.37 L401.92 231.37 Z" fill="#000"/>
<path d="M421.40 220.33 L424.00 225.27 L418.80 225.27 Z" fill="#000"/>
<path d="M438.28 209.53 L440.88 214.47 L435.68 214.47 Z" fill="#000"/>
<path d="M455.16 202.43 L457.76 207.37 L452.56 207.37 Z" fill="#000"/>
<path d="M472.04 197.33 L474.64 202.27 L469.44 202.27 Z" fill="#000"/>
<path d="M488.92 192.83 L491.52 197.77 L486.32 197.77 Z" fill="#000"/>
<line x1="527.70" y1="183.00" x2="527.70" y2="285.60" stroke="#7a7a7a" stroke-width="1.4"/>
<line x1="525.30" y1="285.60" x2="527.70" y2="285.60" stroke="#7a7a7a" stroke-width="1.1"/>
<text x="522.20" y="288.90" font-size="8.0" text-anchor="end" fill="#000" textLength="23.8" lengthAdjust="spacingAndGlyphs" stroke="#000" stroke-width="0.2">1.E+00</text>
<line x1="525.30" y1="270.94" x2="527.70" y2="270.94" stroke="#7a7a7a" stroke-width="1.1"/>
<text x="522.20" y="274.24" font-size="8.0" text-anchor="end" fill="#000" textLength="23.8" lengthAdjust="spacingAndGlyphs" stroke="#000" stroke-width="0.2">1.E+01</text>
<line x1="525.30" y1="256.29" x2="527.70" y2="256.29" stroke="#7a7a7a" stroke-width="1.1"/>
<text x="522.20" y="259.59" font-size="8.0" text-anchor="end" fill="#000" textLength="23.8" lengthAdjust="spacingAndGlyphs" stroke="#000" stroke-width="0.2">1.E+02</text>
<line x1="525.30" y1="241.63" x2="527.70" y2="241.63" stroke="#7a7a7a" stroke-width="1.1"/>
<text x="522.20" y="244.93" font-size="8.0" text-anchor="end" fill="#000" textLength="23.8" lengthAdjust="spacingAndGlyphs" stroke="#000" stroke-width="0.2">1.E+03</text>
<line x1="525.30" y1="226.97" x2="527.70" y2="226.97" stroke="#7a7a7a" stroke-width="1.1"/>
<text x="522.20" y="230.27" font-size="8.0" text-anchor="end" fill="#000" textLength="23.8" lengthAdjust="spacingAndGlyphs" stroke="#000" stroke-width="0.2">1.E+04</text>
<line x1="525.30" y1="212.31" x2="527.70" y2="212.31" stroke="#7a7a7a" stroke-width="1.1"/>
<text x="522.20" y="215.61" font-size="8.0" text-anchor="end" fill="#000" textLength="23.8" lengthAdjust="spacingAndGlyphs" stroke="#000" stroke-width="0.2">1.E+05</text>
<line x1="525.30" y1="197.66" x2="527.70" y2="197.66" stroke="#7a7a7a" stroke-width="1.1"/>
<text x="522.20" y="200.96" font-size="8.0" text-anchor="end" fill="#000" textLength="23.8" lengthAdjust="spacingAndGlyphs" stroke="#000" stroke-width="0.2">1.E+06</text>
<line x1="525.30" y1="183.00" x2="527.70" y2="183.00" stroke="#7a7a7a" stroke-width="1.1"/>
<text x="522.20" y="186.30" font-size="8.0" text-anchor="end" fill="#000" textLength="23.8" lengthAdjust="spacingAndGlyphs" stroke="#000" stroke-width="0.2">1.E+07</text>
<line x1="527.70" y1="285.60" x2="680.25" y2="285.60" stroke="#7a7a7a" stroke-width="1.4"/>
<text x="527.70" y="301.00" font-size="8.2" text-anchor="middle" fill="#000" stroke="#000" stroke-width="0.2">1</text>
<line x1="544.65" y1="285.60" x2="544.65" y2="288.00" stroke="#7a7a7a" stroke-width="1.1"/>
<text x="544.65" y="301.00" font-size="8.2" text-anchor="middle" fill="#000" stroke="#000" stroke-width="0.2">2</text>
<line x1="561.60" y1="285.60" x2="561.60" y2="288.00" stroke="#7a7a7a" stroke-width="1.1"/>
<text x="561.60" y="301.00" font-size="8.2" text-anchor="middle" fill="#000" stroke="#000" stroke-width="0.2">3</text>
<line x1="578.55" y1="285.60" x2="578.55" y2="288.00" stroke="#7a7a7a" stroke-width="1.1"/>
<text x="578.55" y="301.00" font-size="8.2" text-anchor="middle" fill="#000" stroke="#000" stroke-width="0.2">4</text>
<line x1="595.50" y1="285.60" x2="595.50" y2="288.00" stroke="#7a7a7a" stroke-width="1.1"/>
<text x="595.50" y="301.00" font-size="8.2" text-anchor="middle" fill="#000" stroke="#000" stroke-width="0.2">5</text>
<line x1="612.45" y1="285.60" x2="612.45" y2="288.00" stroke="#7a7a7a" stroke-width="1.1"/>
<text x="612.45" y="301.00" font-size="8.2" text-anchor="middle" fill="#000" stroke="#000" stroke-width="0.2">6</text>
<line x1="629.40" y1="285.60" x2="629.40" y2="288.00" stroke="#7a7a7a" stroke-width="1.1"/>
<text x="629.40" y="301.00" font-size="8.2" text-anchor="middle" fill="#000" stroke="#000" stroke-width="0.2">7</text>
<line x1="646.35" y1="285.60" x2="646.35" y2="288.00" stroke="#7a7a7a" stroke-width="1.1"/>
<text x="646.35" y="301.00" font-size="8.2" text-anchor="middle" fill="#000" stroke="#000" stroke-width="0.2">8</text>
<line x1="663.30" y1="285.60" x2="663.30" y2="288.00" stroke="#7a7a7a" stroke-width="1.1"/>
<text x="663.30" y="301.00" font-size="8.2" text-anchor="middle" fill="#000" stroke="#000" stroke-width="0.2">9</text>
<line x1="680.25" y1="285.60" x2="680.25" y2="288.00" stroke="#7a7a7a" stroke-width="1.1"/>
<text x="680.25" y="301.00" font-size="8.2" text-anchor="middle" fill="#000" stroke="#000" stroke-width="0.2">10</text>
<text x="537.80" y="191.00" font-size="10.6" font-weight="bold" text-anchor="start" fill="#000">Hey</text>
<line x1="527.70" y1="285.60" x2="544.65" y2="259.10" stroke="#666" stroke-width="1.1" stroke-dasharray="1.3,1.9"/>
<line x1="544.65" y1="259.10" x2="561.60" y2="259.10" stroke="#666" stroke-width="1.1" stroke-dasharray="1.3,1.9"/>
<line x1="561.60" y1="259.10" x2="578.55" y2="259.10" stroke="#666" stroke-width="1.1" stroke-dasharray="1.3,1.9"/>
<line x1="578.55" y1="259.10" x2="595.50" y2="259.10" stroke="#666" stroke-width="1.1" stroke-dasharray="1.3,1.9"/>
<line x1="595.50" y1="259.10" x2="612.45" y2="259.10" stroke="#666" stroke-width="1.1" stroke-dasharray="1.3,1.9"/>
<line x1="612.45" y1="259.10" x2="629.40" y2="259.10" stroke="#666" stroke-width="1.1" stroke-dasharray="1.3,1.9"/>
<line x1="629.40" y1="259.10" x2="646.35" y2="259.10" stroke="#666" stroke-width="1.1" stroke-dasharray="1.3,1.9"/>
<line x1="646.35" y1="259.10" x2="663.30" y2="259.10" stroke="#666" stroke-width="1.1" stroke-dasharray="1.3,1.9"/>
<line x1="663.30" y1="259.10" x2="680.25" y2="259.10" stroke="#666" stroke-width="1.1" stroke-dasharray="1.3,1.9"/>
<rect x="542.25" y="258.30" width="4.80" height="1.6" fill="#fff"/>
<path d="M542.55 257.00 L546.75 261.20 M546.75 257.00 L542.55 261.20" stroke="#111" stroke-width="1.1" fill="none"/>
<path d="M544.65 257.00 V261.20" stroke="#111" stroke-width="0.6" fill="none"/>
<path d="M542.55 257.00 H546.75 M542.55 261.20 H546.75" stroke="#555" stroke-width="0.55" fill="none"/>
<rect x="559.20" y="258.30" width="4.80" height="1.6" fill="#fff"/>
<path d="M559.50 257.00 L563.70 261.20 M563.70 257.00 L559.50 261.20" stroke="#111" stroke-width="1.1" fill="none"/>
<path d="M561.60 257.00 V261.20" stroke="#111" stroke-width="0.6" fill="none"/>
<path d="M559.50 257.00 H563.70 M559.50 261.20 H563.70" stroke="#555" stroke-width="0.55" fill="none"/>
<rect x="576.15" y="258.30" width="4.80" height="1.6" fill="#fff"/>
<path d="M576.45 257.00 L580.65 261.20 M580.65 257.00 L576.45 261.20" stroke="#111" stroke-width="1.1" fill="none"/>
<path d="M578.55 257.00 V261.20" stroke="#111" stroke-width="0.6" fill="none"/>
<path d="M576.45 257.00 H580.65 M576.45 261.20 H580.65" stroke="#555" stroke-width="0.55" fill="none"/>
<rect x="593.10" y="258.30" width="4.80" height="1.6" fill="#fff"/>
<path d="M593.40 257.00 L597.60 261.20 M597.60 257.00 L593.40 261.20" stroke="#111" stroke-width="1.1" fill="none"/>
<path d="M595.50 257.00 V261.20" stroke="#111" stroke-width="0.6" fill="none"/>
<path d="M593.40 257.00 H597.60 M593.40 261.20 H597.60" stroke="#555" stroke-width="0.55" fill="none"/>
<rect x="610.05" y="258.30" width="4.80" height="1.6" fill="#fff"/>
<path d="M610.35 257.00 L614.55 261.20 M614.55 257.00 L610.35 261.20" stroke="#111" stroke-width="1.1" fill="none"/>
<path d="M612.45 257.00 V261.20" stroke="#111" stroke-width="0.6" fill="none"/>
<path d="M610.35 257.00 H614.55 M610.35 261.20 H614.55" stroke="#555" stroke-width="0.55" fill="none"/>
<rect x="627.00" y="258.30" width="4.80" height="1.6" fill="#fff"/>
<path d="M627.30 257.00 L631.50 261.20 M631.50 257.00 L627.30 261.20" stroke="#111" stroke-width="1.1" fill="none"/>
<path d="M629.40 257.00 V261.20" stroke="#111" stroke-width="0.6" fill="none"/>
<path d="M627.30 257.00 H631.50 M627.30 261.20 H631.50" stroke="#555" stroke-width="0.55" fill="none"/>
<rect x="643.95" y="258.30" width="4.80" height="1.6" fill="#fff"/>
<path d="M644.25 257.00 L648.45 261.20 M648.45 257.00 L644.25 261.20" stroke="#111" stroke-width="1.1" fill="none"/>
<path d="M646.35 257.00 V261.20" stroke="#111" stroke-width="0.6" fill="none"/>
<path d="M644.25 257.00 H648.45 M644.25 261.20 H648.45" stroke="#555" stroke-width="0.55" fill="none"/>
<rect x="660.90" y="258.30" width="4.80" height="1.6" fill="#fff"/>
<path d="M661.20 257.00 L665.40 261.20 M665.40 257.00 L661.20 261.20" stroke="#111" stroke-width="1.1" fill="none"/>
<path d="M663.30 257.00 V261.20" stroke="#111" stroke-width="0.6" fill="none"/>
<path d="M661.20 257.00 H665.40 M661.20 261.20 H665.40" stroke="#555" stroke-width="0.55" fill="none"/>
<rect x="677.85" y="258.30" width="4.80" height="1.6" fill="#fff"/>
<path d="M678.15 257.00 L682.35 261.20 M682.35 257.00 L678.15 261.20" stroke="#111" stroke-width="1.1" fill="none"/>
<path d="M680.25 257.00 V261.20" stroke="#111" stroke-width="0.6" fill="none"/>
<path d="M678.15 257.00 H682.35 M678.15 261.20 H682.35" stroke="#555" stroke-width="0.55" fill="none"/>
<path d="M527.7 285.6 L544.7 244.4 L561.6 238.5 L578.6 229.1 L595.5 223.9 L612.5 214.8 L629.4 209.5 L646.4 205.8 L663.3 205.8 L680.2 198.8" stroke="#000" stroke-width="0.95" fill="none"/>
<circle cx="527.70" cy="285.60" r="2.05" fill="#fff" stroke="#000" stroke-width="0.9"/>
<circle cx="544.65" cy="244.40" r="2.05" fill="#fff" stroke="#000" stroke-width="0.9"/>
<circle cx="561.60" cy="238.50" r="2.05" fill="#fff" stroke="#000" stroke-width="0.9"/>
<circle cx="578.55" cy="229.10" r="2.05" fill="#fff" stroke="#000" stroke-width="0.9"/>
<circle cx="595.50" cy="223.90" r="2.05" fill="#fff" stroke="#000" stroke-width="0.9"/>
<circle cx="612.45" cy="214.80" r="2.05" fill="#fff" stroke="#000" stroke-width="0.9"/>
<circle cx="629.40" cy="209.50" r="2.05" fill="#fff" stroke="#000" stroke-width="0.9"/>
<circle cx="646.35" cy="205.80" r="2.05" fill="#fff" stroke="#000" stroke-width="0.9"/>
<circle cx="663.30" cy="205.80" r="2.05" fill="#fff" stroke="#000" stroke-width="0.9"/>
<circle cx="680.25" cy="198.80" r="2.05" fill="#fff" stroke="#000" stroke-width="0.9"/>
<path d="M527.7 285.6 L544.7 244.4 L561.6 241.6 L578.6 229.1 L595.5 226.4 L612.5 226.0 L629.4 224.7 L646.4 222.7 L663.3 220.8 L680.2 218.2" stroke="#000" stroke-width="0.95" fill="none"/>
<circle cx="527.70" cy="285.60" r="2.45" fill="#000"/>
<circle cx="544.65" cy="244.40" r="2.45" fill="#000"/>
<circle cx="561.60" cy="241.60" r="2.45" fill="#000"/>
<circle cx="578.55" cy="229.10" r="2.45" fill="#000"/>
<circle cx="595.50" cy="226.40" r="2.45" fill="#000"/>
<circle cx="612.45" cy="226.00" r="2.45" fill="#000"/>
<circle cx="629.40" cy="224.70" r="2.45" fill="#000"/>
<circle cx="646.35" cy="222.70" r="2.45" fill="#000"/>
<circle cx="663.30" cy="220.80" r="2.45" fill="#000"/>
<circle cx="680.25" cy="218.20" r="2.45" fill="#000"/>
<path d="M527.7 285.6 L544.7 244.4 L561.6 241.6 L578.6 229.1 L595.5 226.4 L612.5 217.2 L629.4 212.3 L646.4 207.8 L663.3 202.0 L680.2 198.8" stroke="#000" stroke-width="0.95" fill="none"/>
<path d="M527.70 283.13 L530.30 288.07 L525.10 288.07 Z" fill="#000"/>
<path d="M544.65 241.93 L547.25 246.87 L542.05 246.87 Z" fill="#000"/>
<path d="M561.60 239.13 L564.20 244.07 L559.00 244.07 Z" fill="#000"/>
<path d="M578.55 226.63 L581.15 231.57 L575.95 231.57 Z" fill="#000"/>
<path d="M595.50 223.93 L598.10 228.87 L592.90 228.87 Z" fill="#000"/>
<path d="M612.45 214.73 L615.05 219.67 L609.85 219.67 Z" fill="#000"/>
<path d="M629.40 209.83 L632.00 214.77 L626.80 214.77 Z" fill="#000"/>
<path d="M646.35 205.33 L648.95 210.27 L643.75 210.27 Z" fill="#000"/>
<path d="M663.30 199.53 L665.90 204.47 L660.70 204.47 Z" fill="#000"/>
<path d="M680.25 196.33 L682.85 201.27 L677.65 201.27 Z" fill="#000"/>
<text transform="translate(300.6,183.5) rotate(-90)" font-size="10.3" font-weight="bold" fill="#000">Pfu/cell</text>
<text x="496.50" y="315.80" font-size="10.4" font-weight="bold" text-anchor="start" fill="#000">Days</text></svg>
</body></html>
